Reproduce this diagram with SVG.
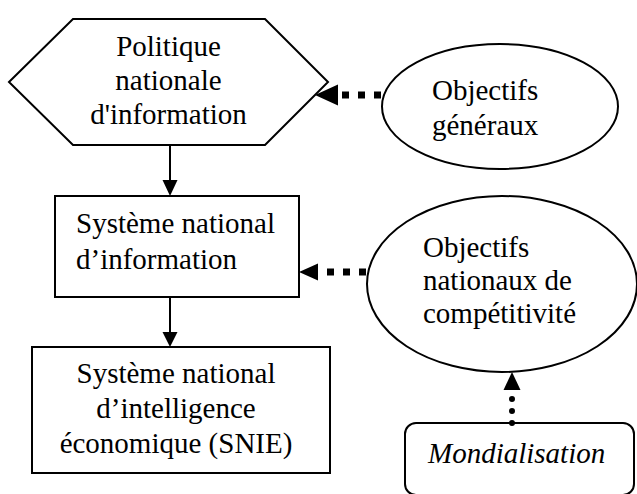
<svg xmlns="http://www.w3.org/2000/svg" width="637" height="494" viewBox="0 0 637 494">
<style>
.shape{fill:#fff;stroke:#000;stroke-width:2}
text{font-family:'Liberation Serif','DejaVu Serif',serif;font-size:29px;fill:#000}
.c{text-anchor:middle}
.i{font-style:italic}
.ln{stroke:#000;stroke-width:2;fill:none}
.sq{stroke:#000;stroke-width:7;stroke-dasharray:7 9;fill:none}
.dot{stroke:#000;stroke-width:6;stroke-linecap:round;stroke-dasharray:0 12;fill:none}
.ah{fill:#000}
</style>
<rect width="637" height="494" fill="#fff"/>
<g id="politique">
<polygon class="shape" points="9,82 73,19 265,19 328,82 265,145 73,145"/>
<text class="c" x="168.5" y="56">Politique</text>
<text class="c" x="168.5" y="90">nationale</text>
<text class="c" x="168.5" y="124">d'information</text>
</g>
<g id="sni">
<rect class="shape" x="55" y="196" width="244" height="101"/>
<text x="76" y="233">Système national</text>
<text x="76" y="269">d’information</text>
</g>
<g id="snie">
<rect class="shape" x="32" y="347" width="298" height="126"/>
<text class="c" x="176" y="383">Système national</text>
<text class="c" x="176" y="418">d’intelligence</text>
<text class="c" x="176" y="453">économique (SNIE)</text>
</g>
<g id="objgen">
<ellipse class="shape" cx="500" cy="106.5" rx="118" ry="62.5"/>
<text x="432" y="100">Objectifs</text>
<text x="432" y="135">généraux</text>
</g>
<g id="objnat">
<ellipse class="shape" cx="502" cy="284" rx="135" ry="88"/>
<text x="423" y="257">Objectifs</text>
<text x="423" y="290">nationaux de</text>
<text x="423" y="323">compétitivité</text>
</g>
<g id="mondialisation">
<rect class="shape" x="405" y="423" width="229" height="72" rx="11"/>
<text class="i" x="428" y="463">Mondialisation</text>
</g>
<g id="connectors">
<line class="ln" x1="170" y1="145" x2="170" y2="181"/>
<polygon class="ah" points="162.5,180 177.5,180 170,196"/>
<line class="ln" x1="170" y1="297" x2="170" y2="333"/>
<polygon class="ah" points="162.5,332 177.5,332 170,347"/>
<line class="sq" x1="342" y1="95" x2="383" y2="95"/>
<polygon class="ah" points="315,95 338,84.5 338,105.5"/>
<line class="sq" x1="327" y1="272" x2="367" y2="272"/>
<polygon class="ah" points="299,272 318,263.5 318,280.5"/>
<line class="dot" x1="512" y1="423" x2="512" y2="398"/>
<polygon class="ah" points="512,372 503.5,390 520.5,390"/>
</g>
</svg>
